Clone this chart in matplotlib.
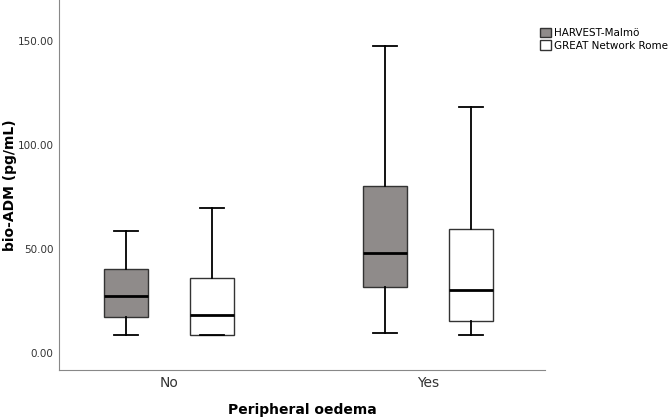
import matplotlib.pyplot as plt
from matplotlib.patches import Patch

# Box statistics (pg/mL)
groups = ['No', 'Yes']
cohorts = ['HARVEST-Malmö', 'GREAT Network Rome']
whislo = [[8.6, 8.6], [9.6, 8.6]]
q1 = [[17.3, 8.6], [31.7, 15.4]]
med = [[27.4, 18.2], [48.0, 30.2]]
q3 = [[40.3, 36.0], [80.2, 59.5]]
whishi = [[58.6, 69.6], [147.4, 118.0]]

fills = ['#8f8b8a', 'white']
offset = 0.166
width = 0.17

fig = plt.figure(figsize=(6.7, 4.2), dpi=100)
ax = fig.add_axes([59 / 670, 50 / 420, 486 / 670, 370 / 420])

for g in range(len(groups)):
    for c in range(len(cohorts)):
        stats = [dict(whislo=whislo[g][c], q1=q1[g][c], med=med[g][c],
                      q3=q3[g][c], whishi=whishi[g][c], fliers=[])]
        pos = g + (c - 0.5) * 2 * offset
        ax.bxp(stats, positions=[pos], widths=width, patch_artist=True,
               showfliers=False,
               boxprops=dict(facecolor=fills[c], edgecolor='#333333', linewidth=1),
               medianprops=dict(color='black', linewidth=2),
               whiskerprops=dict(color='black', linewidth=1.3),
               capprops=dict(color='black', linewidth=1.3),
               capwidths=width * 0.55)

ax.set_xlim(-0.425, 1.452)
ax.set_ylim(-8.2, 169.5)
ax.set_xticks(range(len(groups)))
ax.set_xticklabels(groups, fontsize=10, color='#333333')
ax.set_yticks([0, 50, 100, 150])
ax.set_yticklabels(['0.00', '50.00', '100.00', '150.00'], fontsize=7.5, color='#333333')
ax.tick_params(axis='both', length=0, pad=4)
for side in ['top', 'right']:
    ax.spines[side].set_visible(False)
for side in ['left', 'bottom']:
    ax.spines[side].set_color('#888888')

# Axis titles placed where the reference has them
ax.set_xlabel('Peripheral oedema', fontsize=10, fontweight='bold', va='center')
ax.set_ylabel('bio-ADM (pg/mL)', fontsize=10, fontweight='bold', va='center')
ax.xaxis.set_label_coords(0.5, -0.108)
ax.yaxis.set_label_coords(-0.10, 0.5)

handles = [Patch(facecolor=fills[i], edgecolor='#333333', label=cohorts[i]) for i in range(2)]
fig.legend(handles=handles, loc='upper left', bbox_to_anchor=(536 / 670, 1 - 24 / 420),
           frameon=False, fontsize=7.5, handlelength=1.0, handleheight=1.0,
           handletextpad=0.3, labelspacing=0.2, borderaxespad=0)

fig.savefig('out.png', dpi=100)
